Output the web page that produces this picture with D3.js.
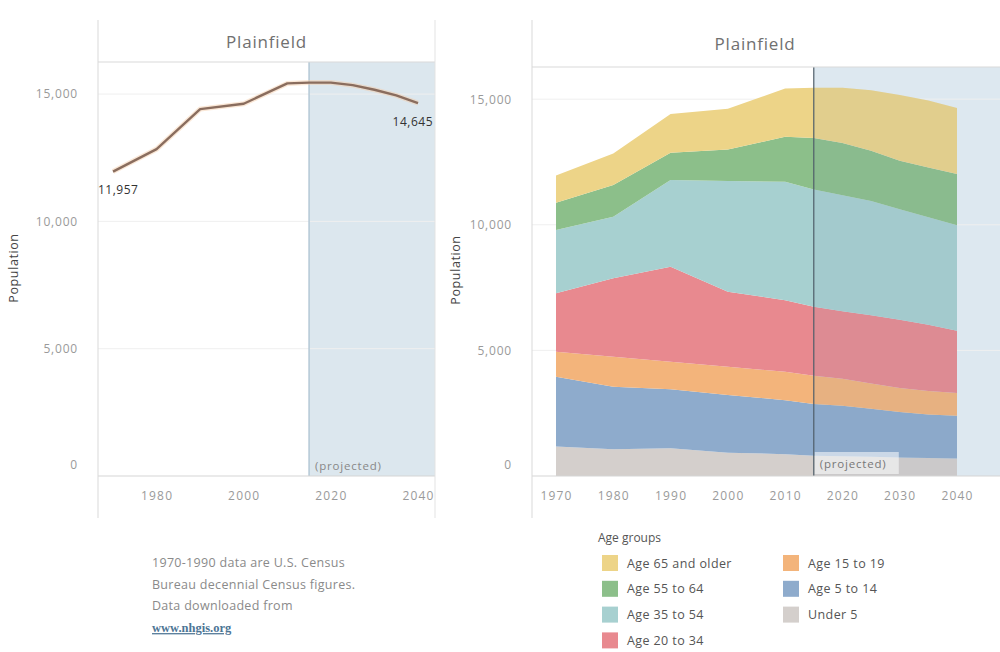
<!DOCTYPE html>
<html><head><meta charset="utf-8">
<script src="https://cdn.jsdelivr.net/npm/d3@7/dist/d3.min.js"></script>
<style>
body{margin:0;background:#fff;}
svg text{font-family:"Open Sans",sans-serif;}
</style></head><body>
<svg id="c" width="1000" height="652"></svg>
<script>
// ---- data ----
const years = [1970,1980,1990,2000,2010,2015,2020,2025,2030,2035,2040];
const totalPopulation = [11957,12840,14410,14620,15420,15450,15450,15350,15170,14950,14645];
const ageGroups = ["Under 5","Age 5 to 14","Age 15 to 19","Age 20 to 34","Age 35 to 54","Age 55 to 64","Age 65 and older"];
const under5    = [1170,1060,1100, 930, 870, 810, 790, 770, 740, 720, 700];
const age5to14  = [2780,2490,2350,2290,2150,2060,2010,1910,1810,1730,1700];
const age15to19 = [1000,1200,1100,1130,1130,1120,1070,1000, 950, 930, 900];
const age20to34 = [2320,3120,3780,2980,2850,2750,2690,2720,2720,2640,2480];
const age35to54 = [2520,2450,3450,4410,4710,4660,4620,4550,4400,4280,4200];
const age55to64 = [1090,1260,1090,1260,1790,2050,2070,2000,1930,1980,2040];
const age65plus = [1077,1260,1540,1620,1920,2000,2200,2400,2620,2670,2625];
const groupColors = ["#d4cfcc","#8eabcc","#f3b47b","#e8898f","#a7d0d0","#8cbf8a","#edd488"];
const legendOrder = ["Age 65 and older","Age 55 to 64","Age 35 to 54","Age 20 to 34","Age 15 to 19","Age 5 to 14","Under 5"];
const yTicks = [0,5000,10000,15000];
const xTicksLine = [1980,2000,2020,2040];
const xTicksArea = [1970,1980,1990,2000,2010,2020,2030,2040];
const projectionStart = 2015;
const title = "Plainfield";
const notes = ["1970-1990 data are U.S. Census","Bureau decennial Census figures.","Data downloaded from"];
const noteLink = "www.nhgis.org";

const svg = d3.select("#c");
const fmt = d3.format(",");
const series = [under5,age5to14,age15to19,age20to34,age35to54,age55to64,age65plus];
const rows = years.map((y,i)=>{const r={year:y}; ageGroups.forEach((g,k)=>r[g]=series[k][i]); return r;});
const color = d3.scaleOrdinal().domain(ageGroups).range(groupColors);

function frame(g, x0, x1, top, base){
  g.append("line").attr("x1",x0).attr("x2",x0).attr("y1",20).attr("y2",518).attr("stroke","#d9d9d9");
  g.append("line").attr("x1",x0).attr("x2",x1).attr("y1",top).attr("y2",top).attr("stroke","#d9d9d9");
}
function yAxis(g, y, x0, xLabel, cy){
  const ax = g.append("g").attr("transform",`translate(${x0},0)`)
    .call(d3.axisLeft(y).tickValues(yTicks).tickSize(0).tickPadding(10).tickFormat(fmt));
  ax.select(".domain").remove();
  ax.selectAll("text").attr("fill","#9a9a9a").style("font-size","12px").style("letter-spacing","0.8px")
    .attr("dy",d=>d===0?"-0.6em":"0.32em");
  g.append("text").attr("transform",`translate(${xLabel},${cy}) rotate(-90)`).attr("text-anchor","middle")
    .attr("fill","#444").style("font-size","12.5px").style("letter-spacing","0.6px").text("Population");
}
function xAxis(g, x, ticks, base){
  const ax = g.append("g").attr("transform",`translate(0,${base})`)
    .call(d3.axisBottom(x).tickValues(ticks).tickSize(0).tickPadding(15).tickFormat(d3.format("d")));
  ax.select(".domain").remove();
  ax.selectAll("text").attr("fill","#9a9a9a").style("font-size","12px").style("letter-spacing","1.2px");
}
function grid(g, y, x0, x1){
  g.selectAll(null).data(yTicks.filter(d=>d>0)).join("line")
    .attr("x1",x0).attr("x2",x1).attr("y1",d=>y(d)).attr("y2",d=>y(d)).attr("stroke","#efefef");
}

// ---------- Left: line chart ----------
{
  const L = {x0:98, x1:435, top:62, base:476};
  const g = svg.append("g");
  const x = d3.scaleLinear().domain([1970,2040]).range([113,418]);
  const y = d3.scaleLinear().domain([0,16260]).range([L.base,L.top]);
  g.append("rect").attr("x",x(projectionStart)).attr("y",L.top).attr("width",L.x1-x(projectionStart))
    .attr("height",L.base-L.top).attr("fill","#dce7ee");
  grid(g,y,L.x0,L.x1);
  g.append("line").attr("x1",x(projectionStart)).attr("x2",x(projectionStart)).attr("y1",L.top).attr("y2",L.base)
    .attr("stroke","#b4c8d6").attr("stroke-width",1.5);
  g.append("line").attr("x1",L.x0).attr("x2",L.x1).attr("y1",L.base).attr("y2",L.base).attr("stroke","#d5d5d5");
  frame(g,L.x0,L.x1,L.top,L.base);
  g.append("line").attr("x1",L.x1).attr("x2",L.x1).attr("y1",20).attr("y2",518).attr("stroke","#e3e3e3");
  g.append("text").attr("x",(L.x0+L.x1)/2).attr("y",48).attr("text-anchor","middle").attr("fill","#707070")
    .style("font-size","17px").style("letter-spacing","0.8px").text(title);
  yAxis(g,y,88,18,268);
  xAxis(g,x,xTicksLine,L.base);
  const line = d3.line().x((d,i)=>x(years[i])).y(d=>y(d));
  g.append("path").datum(totalPopulation).attr("d",line).attr("fill","none")
    .attr("stroke","#f3c9a4").attr("stroke-opacity",0.45).attr("stroke-width",5);
  g.append("path").datum(totalPopulation).attr("d",line).attr("fill","none")
    .attr("stroke","#8a6d5e").attr("stroke-width",2.4).attr("stroke-linejoin","round");
  const n = years.length-1;
  g.append("text").attr("x",x(years[0])-15).attr("y",y(totalPopulation[0])+22).attr("fill","#333")
    .style("font-size","12px").style("letter-spacing","0.5px").text(fmt(totalPopulation[0]));
  g.append("text").attr("x",x(years[n])+15).attr("y",y(totalPopulation[n])+23).attr("text-anchor","end").attr("fill","#333")
    .style("font-size","12px").style("letter-spacing","0.5px").text(fmt(totalPopulation[n]));
  g.append("text").attr("x",x(projectionStart)+6).attr("y",L.base-6).attr("fill","#888")
    .style("font-size","11.5px").style("letter-spacing","0.8px").text("(projected)");
}

// ---------- Right: stacked area ----------
{
  const R = {x0:532, x1:1000, top:67, base:476};
  const g = svg.append("g");
  const x = d3.scaleLinear().domain([1970,2040]).range([556,957]);
  const y = d3.scaleLinear().domain([0,16280]).range([R.base,R.top]);
  g.append("rect").attr("x",x(projectionStart)).attr("y",R.top).attr("width",R.x1-x(projectionStart))
    .attr("height",R.base-R.top).attr("fill","#dde8f0");
  grid(g,y,R.x0,R.x1);
  const stack = d3.stack().keys(ageGroups)(rows);
  const area = d3.area().x(d=>x(d.data.year)).y0(d=>y(d[0])).y1(d=>y(d[1]));
  g.selectAll("path.layer").data(stack).join("path").attr("class","layer")
    .attr("d",area).attr("fill",d=>color(d.key));
  // projected tint only over the stacked marks
  svg.append("defs").append("clipPath").attr("id","projClip").append("rect")
    .attr("x",x(projectionStart)).attr("y",R.top).attr("width",R.x1-x(projectionStart)).attr("height",R.base-R.top);
  const totalArea = d3.area().x(d=>x(d.data.year)).y0(()=>y(0)).y1(d=>y(d[1]));
  g.append("path").datum(stack[stack.length-1]).attr("d",totalArea).attr("clip-path","url(#projClip)")
    .attr("fill","#7f9fba").attr("opacity",0.1);
  g.append("line").attr("x1",x(projectionStart)).attr("x2",x(projectionStart)).attr("y1",R.top).attr("y2",R.base)
    .attr("stroke","#4f5e69").attr("stroke-width",1.2);
  g.append("line").attr("x1",R.x0).attr("x2",R.x1).attr("y1",R.base).attr("y2",R.base).attr("stroke","#d5d5d5");
  frame(g,R.x0,R.x1,R.top,R.base);
  g.append("text").attr("x",755).attr("y",50).attr("text-anchor","middle").attr("fill","#707070")
    .style("font-size","17px").style("letter-spacing","0.8px").text(title);
  yAxis(g,y,522,460,270);
  xAxis(g,x,xTicksArea,R.base);
  const px = x(projectionStart);
  g.append("rect").attr("x",px+1).attr("y",R.base-24).attr("width",84).attr("height",22)
    .attr("fill","#ffffff").attr("opacity",0.55);
  g.append("text").attr("x",px+6).attr("y",R.base-8).attr("fill","#777")
    .style("font-size","11.5px").style("letter-spacing","0.8px").text("(projected)");

  // legend
  const lg = svg.append("g");
  lg.append("text").attr("x",598).attr("y",542).attr("fill","#555").style("font-size","12px").text("Age groups");
  legendOrder.forEach((k,i)=>{
    const col = i<4?0:1, row = i<4?i:i-4;
    const lx = col===0?602:783, ly = 555+row*25.8;
    lg.append("rect").attr("x",lx).attr("y",ly).attr("width",16).attr("height",16).attr("fill",color(k));
    lg.append("text").attr("x",lx+25).attr("y",ly+12.5).attr("fill","#555")
      .style("font-size","12.5px").style("letter-spacing","0.4px").text(k);
  });
}

// ---------- notes ----------
{
  const ng = svg.append("g");
  notes.forEach((t,i)=>{
    ng.append("text").attr("x",152).attr("y",567+i*21.7).attr("fill","#8a8a8a")
      .style("font-size","12.5px").style("letter-spacing","0.3px").text(t);
  });
  ng.append("text").attr("x",152).attr("y",567+3*21.7).attr("fill","#4d7595")
    .style("font-size","12.5px").style("font-weight","bold").style("font-family","'Liberation Serif',serif")
    .style("text-decoration","underline").text(noteLink);
}
</script>
</body></html>
